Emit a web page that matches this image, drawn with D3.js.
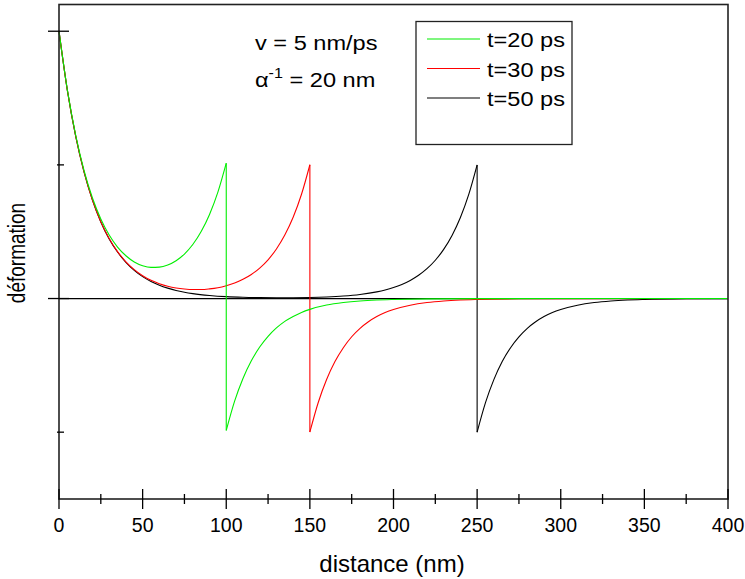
<!DOCTYPE html>
<html><head><meta charset="utf-8">
<script src="https://cdn.jsdelivr.net/npm/d3@7"></script>
<style>body{margin:0;background:#fff}svg{display:block}text{font-family:"Liberation Sans",Arial,sans-serif;fill:#000}</style>
</head><body>
<svg id="c" width="745" height="579"></svg>
<script>
// ---- data ----
const xTicks = [0,50,100,150,200,250,300,350,400];
const xMinorTicks = [25,75,125,175,225,275,325,375];
const yMajorTicks = [0,2];
const yMinorTicks = [-1,1];
const seriesNames = ["t=20 ps","t=30 ps","t=50 ps"];
const seriesColors = ["#00ee00","#ff0000","#000000"];

// t = 20 ps
const x20a = [0,5,10,15,20,25,30,35,40,45,50,55,60,65,70,75,80,85,90,95,100];
const y20a = [2.000,1.561,1.220,0.956,0.752,0.595,0.475,0.385,0.320,0.274,0.246,0.233,0.235,0.251,0.283,0.333,0.404,0.501,0.629,0.796,1.013];
const x20b = [100,105,110,115,120,125,130,135,140,145,150,160,170,180,190,200,220,250,300,400];
const y20b = [-0.987,-0.768,-0.598,-0.466,-0.363,-0.283,-0.220,-0.171,-0.134,-0.104,-0.081,-0.049,-0.030,-0.018,-0.011,-0.007,-0.0025,-0.0006,0,0];
// t = 30 ps
const x30a = [0,5,10,15,20,25,30,35,40,45,50,55,60,65,70,75,80,85,90,95,100,105,110,115,120,125,130,135,140,145,150];
const y30a = [2.000,1.558,1.214,0.946,0.737,0.575,0.449,0.351,0.275,0.216,0.171,0.136,0.111,0.092,0.079,0.071,0.067,0.067,0.072,0.081,0.096,0.116,0.144,0.180,0.228,0.290,0.371,0.475,0.608,0.780,1.001];
const x30b = [150,155,160,165,170,175,180,185,190,195,200,210,220,230,240,250,275,300,400];
const y30b = [-0.999,-0.778,-0.606,-0.472,-0.368,-0.286,-0.223,-0.174,-0.135,-0.105,-0.082,-0.050,-0.030,-0.018,-0.011,-0.007,-0.002,-0.001,0];
// t = 50 ps
const x50a = [0,5,10,15,20,25,30,35,40,45,50,55,60,65,70,75,80,90,100,110,120,130,140,150,160,170,180,190,195,200,205,210,215,220,225,230,235,240,245,250];
const y50a = [2.000,1.558,1.213,0.945,0.736,0.573,0.446,0.348,0.271,0.211,0.164,0.128,0.100,0.078,0.060,0.047,0.037,0.023,0.014,0.009,0.0065,0.0055,0.0059,0.0078,0.0118,0.0187,0.0304,0.0498,0.0639,0.0821,0.1054,0.1353,0.1738,0.2231,0.2865,0.3679,0.4724,0.6065,0.7788,1.000];
const x50b = [250,255,260,265,270,275,280,285,290,295,300,310,320,330,340,350,375,400];
const y50b = [-1.000,-0.779,-0.607,-0.472,-0.368,-0.287,-0.223,-0.174,-0.135,-0.105,-0.082,-0.050,-0.030,-0.018,-0.011,-0.007,-0.002,-0.0005];

const series = [
  {a:[x20a,y20a], b:[x20b,y20b]},
  {a:[x30a,y30a], b:[x30b,y30b]},
  {a:[x50a,y50a], b:[x50b,y50b]}
];

// ---- chart ----
const svg = d3.select("#c");
const L = 59, R = 728, T = 4.5, B = 499;
const x = d3.scaleLinear().domain([0,400]).range([L,R]);
const y = d3.scaleLinear().domain([-1.5,2.2]).range([B,T]);

function stext(px, py, str, anchor, size, sx, rot) {
  const g = svg.append("g").attr("transform", `translate(${px},${py}) scale(${sx||1},1)` + (rot ? ` rotate(${rot})` : ""));
  return g.append("text").attr("text-anchor", anchor || "start").style("font-size", size + "px").text(str);
}

const zip = (xs, ys) => xs.map((v,i) => [v, ys[i]]);
const line = d3.line().x(d => x(d[0])).y(d => y(d[1])).curve(d3.curveMonotoneX);
const lineLin = d3.line().x(d => x(d[0])).y(d => y(d[1]));

// zero line
svg.append("path").attr("d", lineLin([[0,0],[400,0]])).attr("stroke","#000").attr("stroke-width",1.2).attr("fill","none");

// curves: draw black, red, green
[2,1,0].forEach(i => {
  const s = series[i];
  const pa = zip(s.a[0], s.a[1]), pb = zip(s.b[0], s.b[1]);
  const g = svg.append("g").attr("stroke", seriesColors[i]).attr("fill","none").attr("stroke-width",1.1);
  g.append("path").attr("d", line(pa));
  g.append("path").attr("d", line(pb));
  g.append("path").attr("d", lineLin([pa[pa.length-1], pb[0]]));
});

// frame
svg.append("rect").attr("x",L).attr("y",T).attr("width",R-L).attr("height",B-T)
  .attr("fill","none").attr("stroke","#222").attr("stroke-width",1.6);

// x ticks
xTicks.forEach(v => {
  svg.append("line").attr("x1",x(v)).attr("x2",x(v)).attr("y1",B-10).attr("y2",B+10).attr("stroke","#000").attr("stroke-width",1.3);
  stext(x(v), 532, String(v), "middle", 19.5);
});
xMinorTicks.forEach(v => {
  svg.append("line").attr("x1",x(v)).attr("x2",x(v)).attr("y1",B-5).attr("y2",B+5).attr("stroke","#000").attr("stroke-width",1.3);
});
// y ticks
yMajorTicks.forEach(v => {
  svg.append("line").attr("x1",L-11).attr("x2",L+10).attr("y1",y(v)).attr("y2",y(v)).attr("stroke","#000").attr("stroke-width",1.3);
});
yMinorTicks.forEach(v => {
  svg.append("line").attr("x1",L-2).attr("x2",L+5).attr("y1",y(v)).attr("y2",y(v)).attr("stroke","#000").attr("stroke-width",1.3);
});

// axis titles
stext(392, 572, "distance (nm)", "middle", 24);
stext(25, 253, "déformation", "middle", 19, 1.25, -90);

// annotation
const AS = 20.5, SX = 1.15;
stext(255, 50, "v = 5 nm/ps", "start", AS, SX);
const t2 = stext(255, 87, "", "start", AS, SX);
t2.append("tspan").text("α");
t2.append("tspan").attr("dy", -9).style("font-size","14px").text("-1");
t2.append("tspan").attr("dy", 9).text(" = 20 nm");

// legend
svg.append("rect").attr("x",416).attr("y",21.5).attr("width",156).attr("height",123)
  .attr("fill","#fff").attr("stroke","#222").attr("stroke-width",1.3);
seriesNames.forEach((n,i) => {
  const ly = 39 + i*29.5;
  svg.append("line").attr("x1",427).attr("x2",480).attr("y1",ly).attr("y2",ly).attr("stroke",seriesColors[i]).attr("stroke-width",1.1);
  stext(487, ly + 8, n, "start", AS, SX);
});
</script>
</body></html>
